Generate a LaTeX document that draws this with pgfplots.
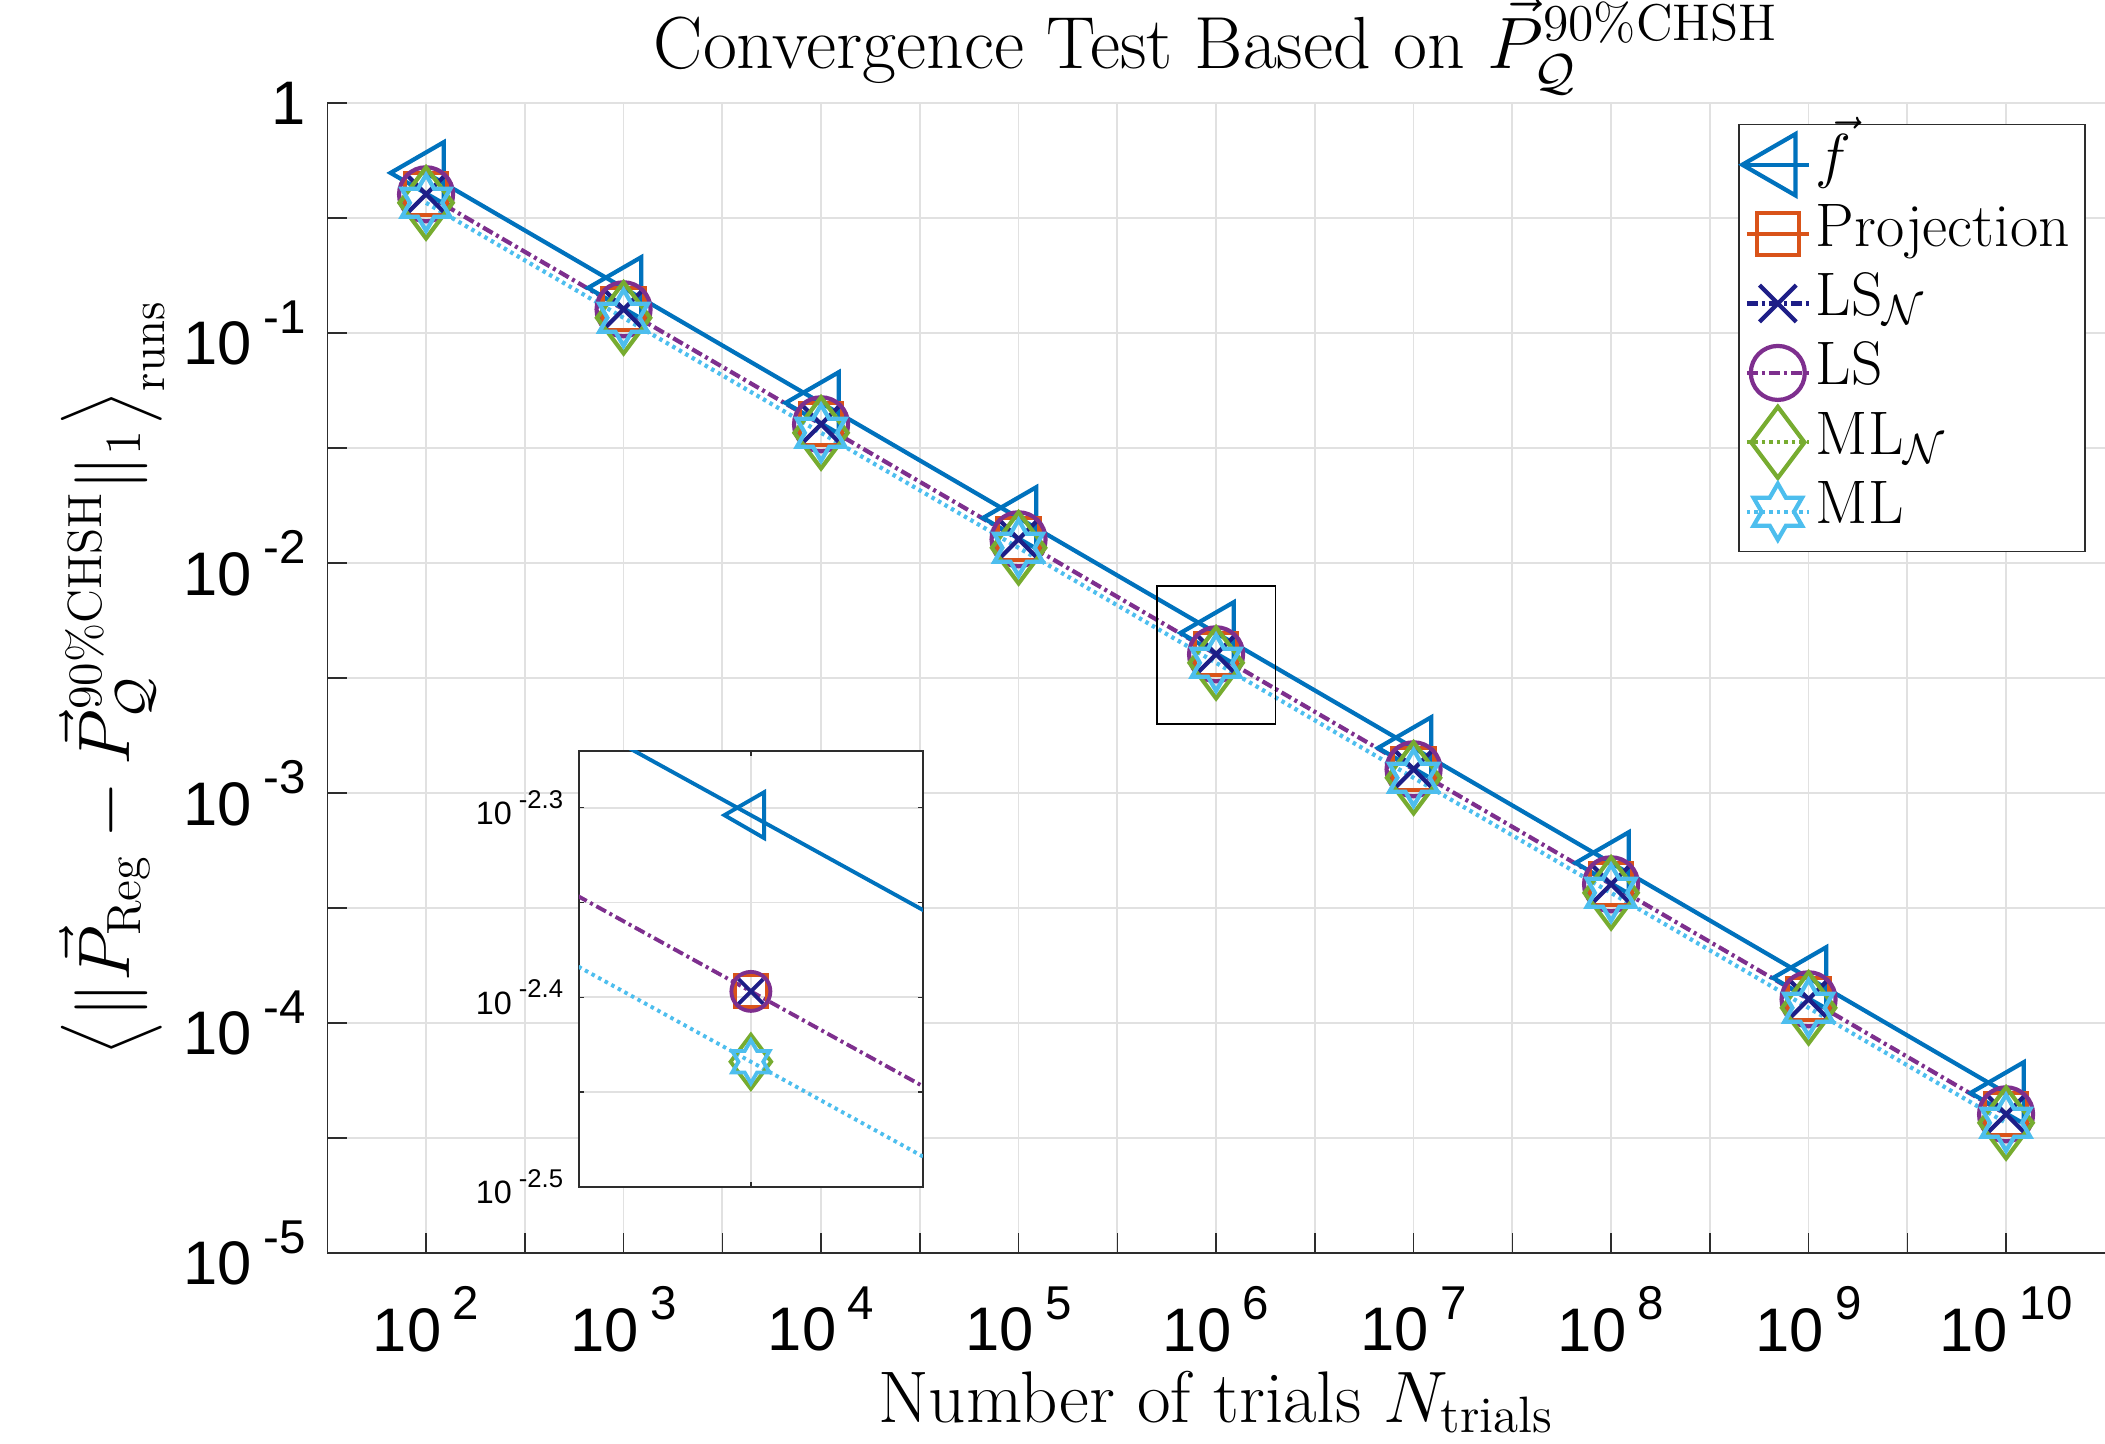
\documentclass[border=0pt]{standalone}
\usepackage{fontspec}
\usepackage{amsmath}
\usepackage{graphicx}
\usepackage{pgfplots}
\usepackage{pgfplotstable}
\pgfplotsset{compat=1.18}
\newfontfamily\ticksfont{Liberation Sans}

\definecolor{cf}{RGB}{0,114,189}
\definecolor{cproj}{RGB}{217,83,25}
\definecolor{clsn}{RGB}{30,30,135}
\definecolor{cls}{RGB}{126,47,142}
\definecolor{cmln}{RGB}{119,172,48}
\definecolor{cml}{RGB}{77,190,238}
\definecolor{gridc}{RGB}{225,225,225}
\definecolor{axc}{RGB}{45,45,45}

\pgfdeclareplotmark{hexagram}{%
  \pgfpathmoveto{\pgfpointpolar{90}{\pgfplotmarksize}}%
  \pgfpathlineto{\pgfpointpolar{120}{0.57735\pgfplotmarksize}}%
  \pgfpathlineto{\pgfpointpolar{150}{\pgfplotmarksize}}%
  \pgfpathlineto{\pgfpointpolar{180}{0.57735\pgfplotmarksize}}%
  \pgfpathlineto{\pgfpointpolar{210}{\pgfplotmarksize}}%
  \pgfpathlineto{\pgfpointpolar{240}{0.57735\pgfplotmarksize}}%
  \pgfpathlineto{\pgfpointpolar{270}{\pgfplotmarksize}}%
  \pgfpathlineto{\pgfpointpolar{300}{0.57735\pgfplotmarksize}}%
  \pgfpathlineto{\pgfpointpolar{330}{\pgfplotmarksize}}%
  \pgfpathlineto{\pgfpointpolar{0}{0.57735\pgfplotmarksize}}%
  \pgfpathlineto{\pgfpointpolar{30}{\pgfplotmarksize}}%
  \pgfpathlineto{\pgfpointpolar{60}{0.57735\pgfplotmarksize}}%
  \pgfpathclose
  \pgfusepathqstroke
}

\newcommand{\mtick}[1]{{\ticksfont\fontsize{17.5}{17.5}\selectfont 10\hspace{3.3pt}\raisebox{9pt}{\fontsize{13.5}{13.5}\selectfont #1}}}
\newcommand{\onetick}{{\ticksfont\fontsize{17.5}{17.5}\selectfont 1}}
\newcommand{\itick}[1]{{\ticksfont\fontsize{9.2}{9.2}\selectfont 10\hspace{2pt}\raisebox{4.7pt}{\fontsize{7.3}{7.3}\selectfont #1}}}
\newcommand{\dstrut}{\vcenter{\hbox{\rule{0pt}{30pt}}}}
\newcommand{\lang}{\mathopen{\vcenter{\hbox{\scalebox{0.77}{$\left\langle\dstrut\right.$}}}}}
\newcommand{\rang}{\mathclose{\vcenter{\hbox{\scalebox{0.77}{$\left.\dstrut\right\rangle$}}}}}

\pgfplotsset{
  pat dashdot/.style={dash pattern=on 0.11cm off 0.04cm on 0.03cm off 0.04cm},
  pat dot/.style={dash pattern=on 0.035cm off 0.04cm},
  % large markers (main plot and legend)
  sf/.style={cf, line width=1.2pt, solid, mark=triangle, mark size=0.355cm, mark options={rotate=90, solid}},
  sproj/.style={cproj, line width=1.2pt, solid, mark=square, mark size=0.21cm, mark options={solid}},
  slsn/.style={clsn, line width=1.2pt, pat dashdot, mark=x, mark size=0.26cm, mark options={solid}},
  sls/.style={cls, line width=1.2pt, pat dashdot, mark=o, mark size=0.27cm, mark options={solid}},
  smln/.style={cmln, line width=1.2pt, pat dot, mark=diamond, mark size=0.355cm, mark options={solid}},
  sml/.style={cml, line width=1.2pt, pat dot, mark=hexagram, mark size=0.28cm, mark options={solid}},
  % small markers (inset)
  if/.style={cf, line width=1.1pt, solid, mark=triangle, mark size=0.265cm, mark options={rotate=90, solid}},
  iproj/.style={cproj, line width=1.1pt, solid, mark=square, mark size=0.16cm, mark options={solid}},
  ilsn/.style={clsn, line width=1.1pt, pat dashdot, mark=x, mark size=0.175cm, mark options={solid}},
  ils/.style={cls, line width=1.1pt, pat dashdot, mark=o, mark size=0.195cm, mark options={solid}},
  imln/.style={cmln, line width=1.1pt, pat dot, mark=diamond, mark size=0.27cm, mark options={solid}},
  iml/.style={cml, line width=1.1pt, pat dot, mark=hexagram, mark size=0.215cm, mark options={solid}},
  every axis title shift=0pt,
}

\pgfplotstableread{
N      f          proj       lsn        ls         mln        ml
1e2    0.4966     0.4009     0.4009     0.4009     0.3681     0.3681
1e3    0.15704    0.12677    0.12677    0.12677    0.11641    0.11641
1e4    0.04966    0.04009    0.04009    0.04009    0.03681    0.03681
1e5    0.015704   0.012677   0.012677   0.012677   0.011641   0.011641
1e6    0.004966   0.004009   0.004009   0.004009   0.003681   0.003681
1e7    0.0015704  0.0012677  0.0012677  0.0012677  0.0011641  0.0011641
1e8    4.966e-4   4.009e-4   4.009e-4   4.009e-4   3.681e-4   3.681e-4
1e9    1.5704e-4  1.2677e-4  1.2677e-4  1.2677e-4  1.1641e-4  1.1641e-4
1e10   4.966e-5   4.009e-5   4.009e-5   4.009e-5   3.681e-5   3.681e-5
}\data

\begin{document}
\begin{tikzpicture}
\useasboundingbox (0,0) rectangle (21.05cm,14.44cm);
\begin{axis}[
  at={(3.273cm,1.91cm)}, anchor=south west,
  width=17.775cm, height=11.5cm, scale only axis,
  xmode=log, ymode=log,
  xmin=31.6228, xmax=3.16228e10, ymin=1e-5, ymax=1,
  axis x line*=bottom, axis y line*=left,
  axis line style={axc, line width=0.4pt},
  xtick={1e2,3.16228e2,1e3,3.16228e3,1e4,3.16228e4,1e5,3.16228e5,1e6,3.16228e6,1e7,3.16228e7,1e8,3.16228e8,1e9,3.16228e9,1e10},
  xticklabels={\mtick{2},{},\mtick{3},{},\mtick{4},{},\mtick{5},{},\mtick{6},{},\mtick{7},{},\mtick{8},{},\mtick{9},{},\mtick{10}},
  ytick={1e-5,3.16228e-5,1e-4,3.16228e-4,1e-3,3.16228e-3,1e-2,3.16228e-2,1e-1,3.16228e-1,1},
  yticklabels={\mtick{-5},{},\mtick{-4},{},\mtick{-3},{},\mtick{-2},{},\mtick{-1},{},\onetick},
  minor xtick={}, minor ytick={},
  xticklabel style={anchor=north, inner sep=0pt, yshift=-0.33cm},
  yticklabel style={anchor=east, inner sep=0pt, xshift=-0.21cm},
  grid=major, major grid style={gridc, line width=0.5pt},
  tick align=inside, major tick length=0.2cm,
  tick style={axc, line width=0.4pt},
  title={Convergence Test Based on $\vec{P}_{\mathcal{Q}}^{\mathrm{90\%CHSH}}$},
  title style={at={(axis description cs:0.5,1.0304)}, anchor=base, yshift=0pt, inner sep=0pt, font=\fontsize{21}{25}\selectfont},
  xlabel={Number of trials $N_{\mathrm{trials}}$},
  xlabel style={at={(axis description cs:0.5,-0.147)}, anchor=base, yshift=0pt, inner sep=0pt, font=\fontsize{20.8}{24}\selectfont},
  ylabel={$\lang \|\vec{P}_{\mathrm{Reg}} - \vec{P}_{\mathcal{Q}}^{\mathrm{90\%CHSH}}\|_1 \rang_{\mathrm{runs}}$},
  ylabel style={at={(axis description cs:-0.1211,0.5)}, anchor=center, inner sep=0pt, font=\fontsize{19.5}{23}\selectfont},
  legend image code/.code={%
    \draw[overlay] plot[mark repeat=2, mark phase=2] coordinates {(0cm,0cm) (0.31cm,0cm) (0.62cm,0cm)};
    \path[draw=none, fill=none, mark=none] (0cm,-0.05cm) rectangle (0.62cm,0.05cm);},
  legend style={at={(0.7937,0.9817)}, anchor=north west, draw=axc, line width=0.4pt, fill=white,
    font=\fontsize{17.5}{20}\selectfont, row sep=0.094cm, inner xsep=0.08cm, inner ysep=0.1cm,
    nodes={inner xsep=0.07cm, inner ysep=0pt, text height=0.42cm, text depth=0.18cm}},
  legend cell align=left,
]
\addlegendimage{sf}\addlegendentry{$\vec{f}$}
\addlegendimage{sproj}\addlegendentry{Projection}
\addlegendimage{slsn}\addlegendentry{LS$_{\mathcal{N}}$}
\addlegendimage{sls}\addlegendentry{LS}
\addlegendimage{smln}\addlegendentry{ML$_{\mathcal{N}}$}
\addlegendimage{sml}\addlegendentry{ML}

\addplot[sf, forget plot] table[x=N, y=f] {\data};
\addplot[sproj, only marks, forget plot] table[x=N, y=proj] {\data};
\addplot[slsn, only marks, forget plot] table[x=N, y=lsn] {\data};
\addplot[sls, forget plot] table[x=N, y=ls] {\data};
\addplot[smln, only marks, forget plot] table[x=N, y=mln] {\data};
\addplot[sml, forget plot] table[x=N, y=ml] {\data};

\draw[black, line width=0.4pt] (axis cs:5.01187e5,7.9433e-3) rectangle (axis cs:1.99526e6,1.99526e-3);
\end{axis}

\begin{axis}[
  at={(5.787cm,2.573cm)}, anchor=south west,
  width=3.44cm, height=4.36cm, scale only axis,
  xmode=log, ymode=log,
  xmin=794328.2, xmax=1258925.4, ymin=3.16228e-3, ymax=5.37032e-3,
  axis background/.style={fill=white},
  axis line style={axc, line width=0.5pt},
  xtick={1e6}, xticklabels={},
  ytick={3.16228e-3,3.54813e-3,3.98107e-3,4.46684e-3,5.01187e-3},
  yticklabels={\itick{-2.5},{},\itick{-2.4},{},\itick{-2.3}},
  minor xtick={}, minor ytick={},
  yticklabel style={anchor=east, inner sep=0pt, xshift=-0.15cm},
  grid=major, major grid style={gridc, line width=0.5pt},
  tick align=inside, major tick length=0.05cm,
  tick style={axc, line width=0.4pt},
  tick pos=both,
]
\addplot[if] table[x=N, y=f] {\data};
\addplot[iproj, only marks] table[x=N, y=proj] {\data};
\addplot[ilsn, only marks] table[x=N, y=lsn] {\data};
\addplot[ils] table[x=N, y=ls] {\data};
\addplot[imln, only marks] table[x=N, y=mln] {\data};
\addplot[iml] table[x=N, y=ml] {\data};
\end{axis}
\end{tikzpicture}
\end{document}
